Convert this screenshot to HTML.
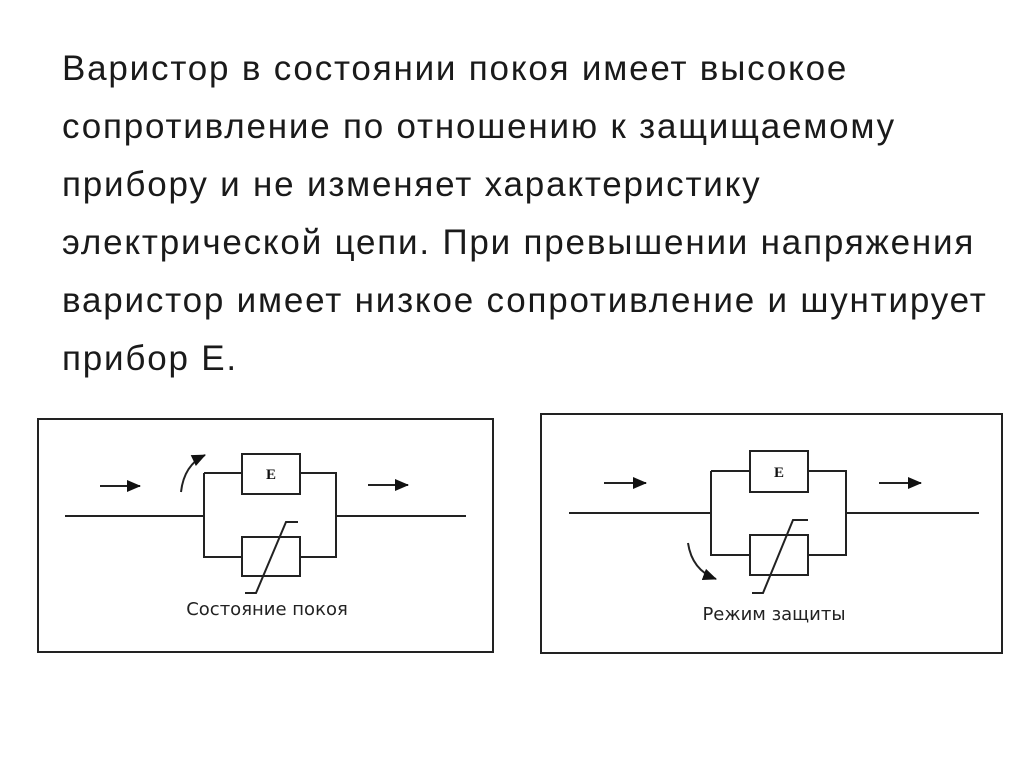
<!DOCTYPE html>
<html><head><meta charset="utf-8"><style>
body{margin:0;width:1024px;height:767px;background:#fff;overflow:hidden;position:relative;font-family:"Liberation Sans",sans-serif}
.t{position:absolute;left:62px;top:40px;font-size:35px;letter-spacing:1.8px;line-height:58px;color:#1a1a1a;white-space:nowrap}
svg{position:absolute;left:0;top:0}
</style></head><body>
<div class="t">Варистор в состоянии покоя имеет высокое<br>сопротивление по отношению к защищаемому<br>прибору и не изменяет характеристику<br>электрической цепи. При превышении напряжения<br>варистор имеет низкое сопротивление и шунтирует<br>прибор Е.</div>
<svg width="1024" height="767" viewBox="0 0 1024 767">
<defs>
<marker id="b" markerWidth="14" markerHeight="12" refX="13" refY="6" orient="auto" markerUnits="userSpaceOnUse"><path d="M0,0L14,6L0,12Z" fill="#111"/></marker></defs>
<g fill="none" stroke="#222" stroke-width="2">
<rect x="38" y="419" width="455" height="233"/>
<path d="M65 516H204M204 473V557H242M204 473H242M300 473H336V557H300M336 516H466"/>
<rect x="242" y="454" width="58" height="40"/>
<rect x="242" y="537" width="58" height="39"/>
<path d="M245 593H256L286 522H298"/>
<path d="M100 486H140" marker-end="url(#b)"/>
<path d="M368 485H408" marker-end="url(#b)"/>
<path d="M181 492Q184 465 205 455" marker-end="url(#b)"/>
<rect x="541" y="414" width="461" height="239"/>
<path d="M569 513H711M711 471V555H750M711 471H750M808 471H846V555H808M846 513H979"/>
<rect x="750" y="451" width="58" height="41"/>
<rect x="750" y="535" width="58" height="40"/>
<path d="M752 593H763L793 520H808"/>
<path d="M604 483H646" marker-end="url(#b)"/>
<path d="M879 483H921" marker-end="url(#b)"/>
<path d="M688 543Q692 570 716 579" marker-end="url(#b)"/>
</g>
<g font-family="Liberation Serif,serif" font-weight="bold" font-size="15" fill="#111" text-anchor="middle">
<text x="271" y="479">E</text><text x="779" y="477">E</text></g>
<g font-family="DejaVu Sans,sans-serif" font-size="18" fill="#222" text-anchor="middle">
<text x="267" y="615">Состояние покоя</text><text x="774" y="620">Режим защиты</text></g>
</svg>
</body></html>
